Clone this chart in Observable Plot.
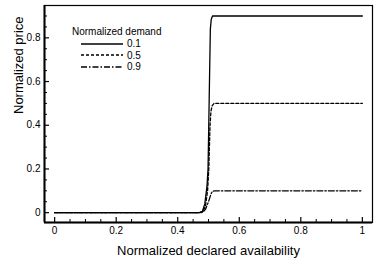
<!DOCTYPE html>
<html>
<head>
<meta charset="utf-8">
<script src="https://cdn.jsdelivr.net/npm/d3@7"></script>
<script src="https://cdn.jsdelivr.net/npm/@observablehq/plot@0.6"></script>
<style>
  html, body { margin: 0; padding: 0; background: #fff; }
  #chart { position: relative; width: 378px; height: 267px; font-family: "Liberation Sans", Arial, sans-serif; }
  #legend { position: absolute; left: 72px; top: 26px; font-size: 10px; color: #000; }
  #legend .row { display: flex; align-items: center; height: 11.5px; margin-left: 9px; }
  #legend .row span { margin-left: 4px; }
</style>
</head>
<body>
<div id="chart"></div>
<script>
// Series (x: normalized declared availability, y: normalized price)
const xSolid = [0, 0.47, 0.48, 0.488, 0.495, 0.4985, 0.502, 0.506, 0.509, 0.513, 0.52, 1];
const ySolid = [0, 0, 0.005, 0.04, 0.12, 0.2, 0.5, 0.84, 0.885, 0.9, 0.9, 0.9];
const xDashed = [0, 0.47, 0.482, 0.49, 0.497, 0.501, 0.505, 0.508, 0.512, 0.518, 1];
const yDashed = [0, 0, 0.005, 0.03, 0.1, 0.2, 0.4, 0.465, 0.49, 0.5, 0.5];
const xDashDot = [0, 0.47, 0.482, 0.49, 0.5, 0.508, 0.512, 0.52, 1];
const yDashDot = [0, 0, 0.002, 0.015, 0.05, 0.085, 0.097, 0.1, 0.1];

const seriesNames = ["0.1", "0.5", "0.9"];
const legendTitle = "Normalized demand";
const xTitle = "Normalized declared availability";
const yTitle = "Normalized price";

const xMajor = [0, 0.2, 0.4, 0.6, 0.8, 1];
const xMajorLabels = ["0", "0.2", "0.4", "0.6", "0.8", "1"];
const xMinor = [0.05, 0.1, 0.15, 0.25, 0.3, 0.35, 0.45, 0.5, 0.55, 0.65, 0.7, 0.75, 0.85, 0.9, 0.95];
const yMajor = [0, 0.2, 0.4, 0.6, 0.8];
const yMajorLabels = ["0", "0.2", "0.4", "0.6", "0.8"];
const yMinor = [0.05, 0.1, 0.15, 0.25, 0.3, 0.35, 0.45, 0.5, 0.55, 0.65, 0.7, 0.75, 0.85, 0.9];

const xDomain = [-0.033, 1.033];
const yDomain = [-0.045, 0.948];

const dashes = [null, "3,2", "6,2,1.5,2"];
const toRows = (xs, ys, name) => xs.map((x, i) => ({x, y: ys[i], name}));
const rows = [
  toRows(xSolid, ySolid, seriesNames[0]),
  toRows(xDashed, yDashed, seriesNames[1]),
  toRows(xDashDot, yDashDot, seriesNames[2])
];

const font = '"Liberation Sans", Arial, sans-serif';
const plot = Plot.plot({
  width: 378,
  height: 267,
  marginLeft: 44,
  marginRight: 6,
  marginTop: 5,
  marginBottom: 45,
  style: {fontFamily: font, fontSize: "10px", background: "#fff", color: "#000"},
  x: {domain: xDomain},
  y: {domain: yDomain},
  marks: [
    Plot.frame({stroke: "#000", strokeWidth: 1.2}),
    Plot.ruleY([yDomain[0]], {stroke: "#000", strokeWidth: 2}),
    Plot.ruleX([xDomain[0]], {stroke: "#000", strokeWidth: 2}),
    Plot.axisX({ticks: xMajor, tickSize: 0, tickPadding: 4, tickFormat: (d) => xMajorLabels[xMajor.indexOf(d)], label: null, fontSize: 10}),
    Plot.axisX({ticks: xMajor, tickSize: -5, text: null, label: null, strokeWidth: 1.2}),
    Plot.axisX({ticks: xMinor, tickSize: -3, text: null, label: null, strokeWidth: 1}),
    Plot.axisY({ticks: yMajor, tickSize: 0, tickPadding: 4, tickFormat: (d) => yMajorLabels[yMajor.indexOf(d)], label: null, fontSize: 10}),
    Plot.axisY({ticks: yMajor, tickSize: -5, text: null, label: null, strokeWidth: 1.2}),
    Plot.axisY({ticks: yMinor, tickSize: -3, text: null, label: null, strokeWidth: 1}),
    ...rows.map((r, i) => Plot.line(r, {x: "x", y: "y", stroke: "#000", strokeWidth: 1.3, strokeDasharray: dashes[i]})),
    Plot.text([xTitle], {frameAnchor: "bottom", dy: 28, fontSize: 13, lineAnchor: "middle"}),
    Plot.text([yTitle], {frameAnchor: "left", dx: -26, rotate: -90, fontSize: 13, lineAnchor: "middle"})
  ]
});
const chart = document.getElementById("chart");
chart.appendChild(plot);

// Legend
const legend = document.createElement("div");
legend.id = "legend";
const title = document.createElement("div");
title.textContent = legendTitle;
title.style.marginBottom = "1px";
legend.appendChild(title);
seriesNames.forEach((name, i) => {
  const row = document.createElement("div");
  row.className = "row";
  const svg = d3.create("svg").attr("width", 42).attr("height", 6);
  svg.append("line").attr("x1", 0).attr("x2", 42).attr("y1", 3).attr("y2", 3)
    .attr("stroke", "#000").attr("stroke-width", 1.3)
    .attr("stroke-dasharray", dashes[i]);
  row.appendChild(svg.node());
  const s = document.createElement("span");
  s.textContent = name;
  row.appendChild(s);
  legend.appendChild(row);
});
chart.appendChild(legend);
</script>
</body>
</html>
